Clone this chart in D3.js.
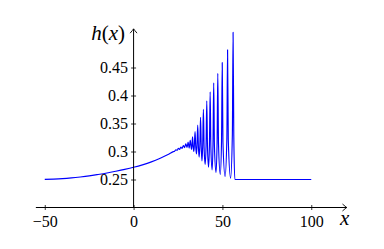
<!DOCTYPE html>
<html>
<head>
<meta charset="utf-8">
<script src="https://cdn.jsdelivr.net/npm/d3@7"></script>
<style>
  html, body { margin: 0; padding: 0; background: #fff; }
  svg { display: block; }
</style>
</head>
<body>
<svg id="chart" width="384" height="249"></svg>
<script>
// ---- data ----
const smoothX = [-50, -45, -40, -35, -30, -25, -20, -15, -10, -5, 0, 5, 10, 15, 20, 22.4];
const smoothH = [0.2502, 0.2507, 0.2515, 0.2528, 0.2545, 0.2565, 0.2590, 0.2617, 0.2648, 0.2681, 0.2718, 0.2762, 0.2815, 0.2880, 0.2955, 0.2998];

const peakX = [23.8, 25.2, 26.6, 28.0, 29.4, 30.7, 31.9, 33.2, 34.6, 36.1, 37.7, 39.3, 41.2, 43.1, 45.1, 47.4, 49.9, 52.9, 56.0];
const peakH = [0.3030, 0.3055, 0.3080, 0.3108, 0.3138, 0.3168, 0.3198, 0.3262, 0.3354, 0.3473, 0.3610, 0.3754, 0.3905, 0.4065, 0.4225, 0.4396, 0.4590, 0.4815, 0.5130];

const troughX = [23.1, 24.5, 25.9, 27.3, 28.7, 30.1, 31.3, 32.6, 33.9, 35.4, 36.9, 38.5, 40.3, 42.2, 44.2, 46.4, 48.8, 51.5, 54.6];
const troughH = [0.3005, 0.3020, 0.3038, 0.3055, 0.3068, 0.3072, 0.3060, 0.3035, 0.3000, 0.2955, 0.2900, 0.2830, 0.2770, 0.2720, 0.2670, 0.2625, 0.2590, 0.2555, 0.2525];

// feet of the narrow crests (where each spike leaves the wide trough)
const riseX = [32.85, 34.2, 35.7, 37.3, 38.9, 40.8, 42.7, 44.7, 47.0, 49.5, 52.5, 55.6];
const riseH = [0.3103, 0.3106, 0.3110, 0.3113, 0.3107, 0.3111, 0.3124, 0.3137, 0.3156, 0.3190, 0.3233, 0.3306];
const fallX = [33.55, 35.0, 36.5, 38.1, 39.7, 41.6, 43.5, 45.5, 47.8, 50.3, 53.3, 56.4];
const fallH = [0.3079, 0.3075, 0.3072, 0.3064, 0.3065, 0.3076, 0.3089, 0.3105, 0.3132, 0.3166, 0.3212, 0.3289];

const tailX = [57.0, 60, 70, 80, 90, 100];
const tailH = [0.2500, 0.2500, 0.2500, 0.2500, 0.2500, 0.2500];

const xTicks = [-50, 0, 50, 100];
const xTickLabels = ["\u221250", "0", "50", "100"];
const yTicks = [0.25, 0.3, 0.35, 0.4, 0.45];
const yTickLabels = ["0.25", "0.3", "0.35", "0.4", "0.45"];

// ---- build ----
const FONT = "Liberation Serif, DejaVu Serif, serif";
const svg = d3.select("#chart");
const x = d3.scaleLinear().domain([-50, 100]).range([44.75, 311.25]);
const y = d3.scaleLinear().domain([0.2, 0.5]).range([207.5, 39.5]);

const pts = [];
[[smoothX, smoothH], [peakX, peakH], [troughX, troughH], [riseX, riseH], [fallX, fallH], [tailX, tailH]]
  .forEach(([xs, hs]) => xs.forEach((v, i) => pts.push([v, hs[i]])));
pts.sort((a, b) => a[0] - b[0]);

const line = d3.line()
  .x(d => x(d[0]))
  .y(d => y(d[1]))
  .curve(d3.curveMonotoneX);

svg.append("path")
  .attr("d", line(pts))
  .attr("fill", "none")
  .attr("stroke", "#0000ff")
  .attr("stroke-width", 1.15)
  .attr("stroke-linejoin", "round");

// axes lines with arrows
const axisColor = "#000";
const x0 = x(-55), x1 = x(120);
const yAxisBase = y(0.2), yTop = y(0.519);

svg.append("line").attr("x1", x0).attr("x2", x1).attr("y1", yAxisBase).attr("y2", yAxisBase)
  .attr("stroke", axisColor).attr("stroke-width", 1);
svg.append("line").attr("x1", x(0)).attr("x2", x(0)).attr("y1", yAxisBase).attr("y2", yTop)
  .attr("stroke", axisColor).attr("stroke-width", 1);

svg.append("path")
  .attr("d", `M${x1 - 4},${yAxisBase - 3.2} Q${x1 - 1.2},${yAxisBase - 0.8} ${x1},${yAxisBase} Q${x1 - 1.2},${yAxisBase + 0.8} ${x1 - 4},${yAxisBase + 3.2}`)
  .attr("fill", "none").attr("stroke", axisColor).attr("stroke-width", 0.9).attr("stroke-linecap", "round");
svg.append("path")
  .attr("d", `M${x(0) - 3.2},${yTop + 4} Q${x(0) - 0.8},${yTop + 1.2} ${x(0)},${yTop} Q${x(0) + 0.8},${yTop + 1.2} ${x(0) + 3.2},${yTop + 4}`)
  .attr("fill", "none").attr("stroke", axisColor).attr("stroke-width", 0.9).attr("stroke-linecap", "round");

// x axis ticks via d3 axis
const xAxis = d3.axisBottom(x).tickValues(xTicks).tickSize(2.5)
  .tickFormat((d, i) => xTickLabels[i]);
const gx = svg.append("g").attr("transform", `translate(0,${yAxisBase})`).call(xAxis)
  .attr("font-family", FONT).attr("font-size", 16);
gx.select(".domain").remove();
gx.selectAll(".tick line").attr("y1", -2.5).attr("y2", 2.5).attr("stroke", axisColor).attr("stroke-width", 0.8);
gx.selectAll(".tick text")
  .attr("y", 19.5).attr("dy", null)
  .attr("fill", "#000");

// y axis ticks via d3 axis
const yAxis = d3.axisLeft(y).tickValues(yTicks).tickSize(2.5)
  .tickFormat((d, i) => yTickLabels[i]);
const gy = svg.append("g").attr("transform", `translate(${x(0)},0)`).call(yAxis)
  .attr("font-family", FONT).attr("font-size", 16);
gy.select(".domain").remove();
gy.selectAll(".tick line").attr("x1", -2.5).attr("x2", 2.5).attr("stroke", axisColor).attr("stroke-width", 0.8);
gy.selectAll(".tick text")
  .attr("x", -5.5).attr("dy", "0.34em")
  .attr("fill", "#000");

// axis labels
const hl = svg.append("text")
  .attr("x", 125).attr("y", 39.5)
  .attr("text-anchor", "end")
  .attr("font-family", FONT)
  .attr("font-size", 21)
  .attr("fill", "#000");
hl.append("tspan").attr("font-style", "italic").text("h");
hl.append("tspan").text("(");
hl.append("tspan").attr("font-style", "italic").text("x");
hl.append("tspan").text(")");

svg.append("text")
  .attr("x", 340).attr("y", 225)
  .attr("font-style", "italic")
  .attr("font-family", FONT)
  .attr("font-size", 21)
  .attr("fill", "#000")
  .text("x");
</script>
</body>
</html>
